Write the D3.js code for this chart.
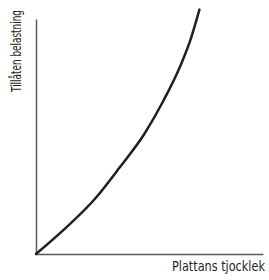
<!DOCTYPE html>
<html>
<head>
<meta charset="utf-8">
<script src="https://cdn.jsdelivr.net/npm/d3@7"></script>
<style>
  body { margin: 0; background: #fff; }
  text { font-family: "Liberation Sans Narrow", "DejaVu Sans Condensed", "Roboto", sans-serif; fill: #231f20; }
</style>
</head>
<body>
<div></div>
<script>
// plate thickness (arbitrary units) vs allowed load
const thickness = [0, 13, 26, 37, 48, 56, 64, 68, 72];
const load = [0, 11, 23.5, 37, 51.5, 65, 81, 91, 104];
const xTitle = 'Plattans tjocklek';
const yTitle = 'Tillåten belastning';

const width = 269, height = 280;
const margin = { left: 36, right: 6, top: 19, bottom: 26 };

const xScale = d3.scaleLinear()
	.domain([0, 100])
	.range([margin.left, width - margin.right]);

const yScale = d3.scaleLinear()
	.domain([0, 100])
	.range([height - margin.bottom, margin.top]);

const svg = d3.select('div')
	.append('svg')
	.attr('width', width)
	.attr('height', height);

const xAxis = d3.axisBottom(xScale).ticks(0).tickSize(0).tickSizeOuter(0);
const yAxis = d3.axisLeft(yScale).ticks(0).tickSize(0).tickSizeOuter(0);

svg.append('g')
	.attr('transform', `translate(0, ${yScale(0)})`)
	.call(xAxis)
	.call(g => g.select('.domain').attr('stroke', '#58595b').attr('stroke-width', 1.5));

svg.append('g')
	.attr('transform', `translate(${xScale(0)}, 0)`)
	.call(yAxis)
	.call(g => g.select('.domain').attr('stroke', '#58595b').attr('stroke-width', 1.5));

const line = d3.line()
	.x((d, i) => xScale(thickness[i]))
	.y(d => yScale(d))
	.curve(d3.curveMonotoneX);

svg.append('path')
	.datum(load)
	.attr('fill', 'none')
	.attr('stroke', '#231f20')
	.attr('stroke-width', 2.5)
	.attr('stroke-linecap', 'round')
	.attr('d', line);

// condensed titles: squeeze horizontally to the reference width
const fit = (sel, w) => {
	const k = Math.min(1, w / sel.node().getComputedTextLength());
	return k;
};

const xt = svg.append('text')
	.style('font-size', '14.5px')
	.text(xTitle);
const kx = fit(xt, 93);
xt.attr('transform', `translate(172, 271) scale(${kx}, 1)`);

const yt = svg.append('text')
	.style('font-size', '14.5px')
	.text(yTitle);
const ky = fit(yt, 82);
yt.attr('transform', `translate(21, 92) rotate(-90) scale(${ky}, 1)`);
</script>
</body>
</html>
